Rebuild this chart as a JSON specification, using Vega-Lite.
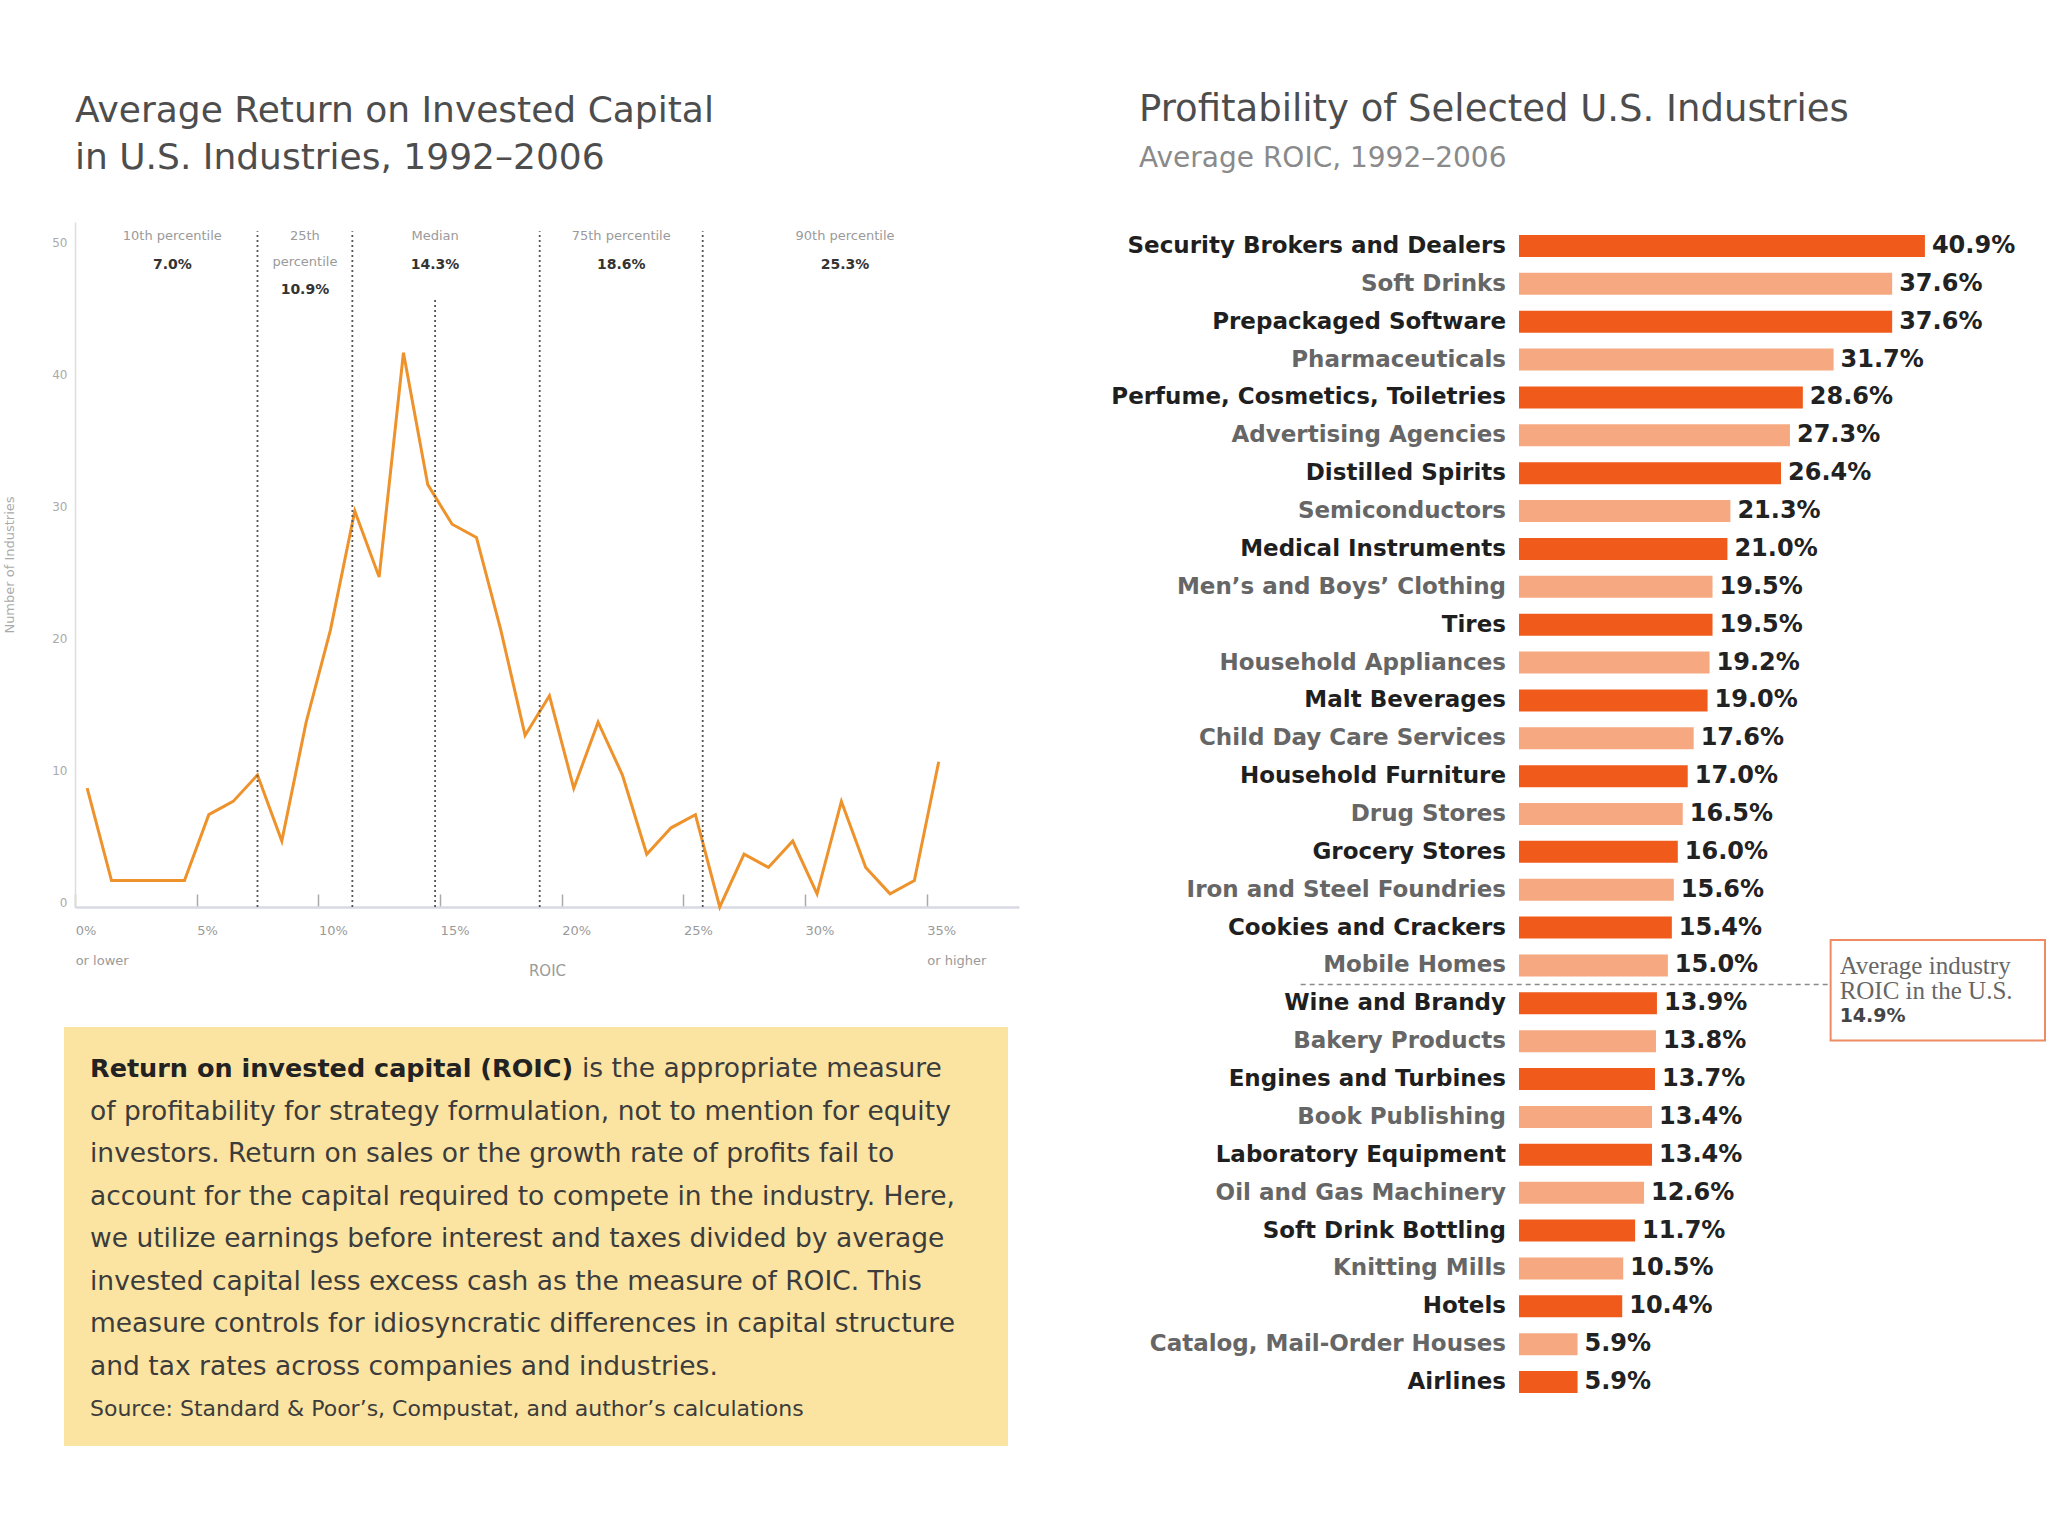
{
  "$schema": "https://vega.github.io/schema/vega-lite/v6.json",
  "background": "white",
  "padding": {"left": 3, "top": 91, "right": 0, "bottom": 0},
  "config": {"font": "DejaVu Sans", "view": {"stroke": null}},
  "datasets": {
    "distribution": [
      {"roic": 0, "industries": 9}, {"roic": 1, "industries": 2}, {"roic": 2, "industries": 2},
      {"roic": 3, "industries": 2}, {"roic": 4, "industries": 2}, {"roic": 5, "industries": 7},
      {"roic": 6, "industries": 8}, {"roic": 7, "industries": 10}, {"roic": 8, "industries": 5},
      {"roic": 9, "industries": 14}, {"roic": 10, "industries": 21}, {"roic": 11, "industries": 30},
      {"roic": 12, "industries": 25}, {"roic": 13, "industries": 42}, {"roic": 14, "industries": 32},
      {"roic": 15, "industries": 29}, {"roic": 16, "industries": 28}, {"roic": 17, "industries": 21},
      {"roic": 18, "industries": 13}, {"roic": 19, "industries": 16}, {"roic": 20, "industries": 9},
      {"roic": 21, "industries": 14}, {"roic": 22, "industries": 10}, {"roic": 23, "industries": 4},
      {"roic": 24, "industries": 6}, {"roic": 25, "industries": 7}, {"roic": 26, "industries": 0},
      {"roic": 27, "industries": 4}, {"roic": 28, "industries": 3}, {"roic": 29, "industries": 5},
      {"roic": 30, "industries": 1}, {"roic": 31, "industries": 8}, {"roic": 32, "industries": 3},
      {"roic": 33, "industries": 1}, {"roic": 34, "industries": 2}, {"roic": 35, "industries": 11}
    ],
    "percentiles": [
      {"pct": 10, "label": "10th percentile", "value": 7.0},
      {"pct": 25, "label": "25th\npercentile", "value": 10.9},
      {"pct": 50, "label": "Median", "value": 14.3},
      {"pct": 75, "label": "75th percentile", "value": 18.6},
      {"pct": 90, "label": "90th percentile", "value": 25.3}
    ],
    "notes": [
      {"line": 1, "lead": "Return on invested capital (ROIC)", "text": "is the appropriate measure"},
      {"line": 2, "text": "of profitability for strategy formulation, not to mention for equity"},
      {"line": 3, "text": "investors. Return on sales or the growth rate of profits fail to"},
      {"line": 4, "text": "account for the capital required to compete in the industry. Here,"},
      {"line": 5, "text": "we utilize earnings before interest and taxes divided by average"},
      {"line": 6, "text": "invested capital less excess cash as the measure of ROIC. This"},
      {"line": 7, "text": "measure controls for idiosyncratic differences in capital structure"},
      {"line": 8, "text": "and tax rates across companies and industries."}
    ],
    "source": [
      {"line": 9, "text": "Source: Standard & Poor’s, Compustat, and author’s calculations"}
    ],
    "industries": [
      {"rank": 1, "industry": "Security Brokers and Dealers", "roic": 0.409},
      {"rank": 2, "industry": "Soft Drinks", "roic": 0.376},
      {"rank": 3, "industry": "Prepackaged Software", "roic": 0.376},
      {"rank": 4, "industry": "Pharmaceuticals", "roic": 0.317},
      {"rank": 5, "industry": "Perfume, Cosmetics, Toiletries", "roic": 0.286},
      {"rank": 6, "industry": "Advertising Agencies", "roic": 0.273},
      {"rank": 7, "industry": "Distilled Spirits", "roic": 0.264},
      {"rank": 8, "industry": "Semiconductors", "roic": 0.213},
      {"rank": 9, "industry": "Medical Instruments", "roic": 0.210},
      {"rank": 10, "industry": "Men’s and Boys’ Clothing", "roic": 0.195},
      {"rank": 11, "industry": "Tires", "roic": 0.195},
      {"rank": 12, "industry": "Household Appliances", "roic": 0.192},
      {"rank": 13, "industry": "Malt Beverages", "roic": 0.190},
      {"rank": 14, "industry": "Child Day Care Services", "roic": 0.176},
      {"rank": 15, "industry": "Household Furniture", "roic": 0.170},
      {"rank": 16, "industry": "Drug Stores", "roic": 0.165},
      {"rank": 17, "industry": "Grocery Stores", "roic": 0.160},
      {"rank": 18, "industry": "Iron and Steel Foundries", "roic": 0.156},
      {"rank": 19, "industry": "Cookies and Crackers", "roic": 0.154},
      {"rank": 20, "industry": "Mobile Homes", "roic": 0.150},
      {"rank": 21, "industry": "Wine and Brandy", "roic": 0.139},
      {"rank": 22, "industry": "Bakery Products", "roic": 0.138},
      {"rank": 23, "industry": "Engines and Turbines", "roic": 0.137},
      {"rank": 24, "industry": "Book Publishing", "roic": 0.134},
      {"rank": 25, "industry": "Laboratory Equipment", "roic": 0.134},
      {"rank": 26, "industry": "Oil and Gas Machinery", "roic": 0.126},
      {"rank": 27, "industry": "Soft Drink Bottling", "roic": 0.117},
      {"rank": 28, "industry": "Knitting Mills", "roic": 0.105},
      {"rank": 29, "industry": "Hotels", "roic": 0.104},
      {"rank": 30, "industry": "Catalog, Mail-Order Houses", "roic": 0.059},
      {"rank": 31, "industry": "Airlines", "roic": 0.059}
    ],
    "avg_roic": [
      {"label": "Average industry\nROIC in the U.S.", "roic": 0.149}
    ]
  },
  "hconcat": [
    {
      "spacing": 49,
      "vconcat": [
        {
          "width": 944,
          "height": 685,
          "title": {
            "text": ["Average Return on Invested Capital", "in U.S. Industries, 1992–2006"],
            "anchor": "start", "frame": "group", "fontSize": 36, "fontWeight": "normal",
            "color": "#4d4d4d", "lineHeight": 47, "offset": 45
          },
          "layer": [
            {
              "data": {"name": "distribution"},
              "mark": {"type": "line", "color": "#EE922C", "strokeWidth": 3},
              "encoding": {
                "x": {
                  "field": "roic", "type": "quantitative",
                  "scale": {"domain": [-0.5, 38.3], "nice": false, "zero": false},
                  "axis": {
                    "values": [0, 5, 10, 15, 20, 25, 30, 35],
                    "labelExpr": "datum.value == 0 ? ['0%', 'or lower'] : datum.value == 35 ? ['35%', 'or higher'] : datum.value + '%'",
                    "title": "ROIC", "grid": false,
                    "domainColor": "#d9d9e3", "domainWidth": 2.5,
                    "ticks": true, "tickColor": "#aaaaaa", "tickWidth": 1.5, "tickSize": -13, "tickOffset": -12,
                    "labelPadding": 30, "labelAlign": "left", "labelColor": "#9a9a9a", "labelFontSize": 13,
                    "labelLineHeight": 30, "labelFlush": false, "labelOverlap": false,
                    "titleColor": "#9a9a9a", "titleFontSize": 15, "titleFontWeight": "normal", "titlePadding": -4
                  }
                },
                "y": {
                  "field": "industries", "type": "quantitative",
                  "scale": {"domain": [0, 51.9], "nice": false},
                  "axis": {
                    "values": [0, 10, 20, 30, 40, 50], "title": "Number of Industries",
                    "grid": false, "ticks": false, "domainColor": "#dddddd", "domainWidth": 1.5,
                    "labelColor": "#aaaaaa", "labelFontSize": 12, "labelPadding": 8, "labelOffset": -5,
                    "titleColor": "#aaaaaa", "titleFontSize": 13, "titleFontWeight": "normal", "titlePadding": 35
                  }
                }
              }
            },
            {
              "data": {"name": "percentiles"},
              "transform": [{"filter": "datum.pct != 50"}],
              "mark": {"type": "rule", "color": "#555555", "strokeWidth": 1.8, "strokeDash": [2, 3]},
              "encoding": {
                "x": {"field": "value", "type": "quantitative"},
                "y": {"datum": 0},
                "y2": {"datum": 51.2}
              }
            },
            {
              "data": {"name": "percentiles"},
              "transform": [{"filter": "datum.pct == 50"}],
              "mark": {"type": "rule", "color": "#555555", "strokeWidth": 1.8, "strokeDash": [2, 3]},
              "encoding": {
                "x": {"field": "value", "type": "quantitative"},
                "y": {"datum": 0},
                "y2": {"datum": 46}
              }
            },
            {
              "data": {"name": "percentiles"},
              "transform": [
                {"window": [{"op": "lag", "field": "value", "as": "prev"}, {"op": "lead", "field": "value", "as": "next"}], "sort": [{"field": "value"}], "frame": [null, null]},
                {"calculate": "datum.pct < 50 ? ((isValid(datum.prev) ? datum.prev : 0) + datum.value) / 2 : (datum.pct == 50 ? datum.value : (datum.value + (isValid(datum.next) ? datum.next : 37)) / 2)", "as": "label_x"},
                {"calculate": "format(datum.value, '.1f') + '%'", "as": "value_label"}
              ],
              "layer": [
                {
                  "mark": {"type": "text", "align": "center", "baseline": "top", "fontSize": 13, "color": "#9a9a9a", "lineBreak": "\n", "lineHeight": 26},
                  "encoding": {
                    "x": {"field": "label_x", "type": "quantitative"},
                    "y": {"datum": 51.3},
                    "text": {"field": "label"}
                  }
                },
                {
                  "transform": [{"filter": "datum.pct != 25"}],
                  "mark": {"type": "text", "align": "center", "baseline": "top", "fontSize": 14, "fontWeight": "bold", "color": "#333333"},
                  "encoding": {
                    "x": {"field": "label_x", "type": "quantitative"},
                    "y": {"datum": 49.2},
                    "text": {"field": "value_label"}
                  }
                },
                {
                  "transform": [{"filter": "datum.pct == 25"}],
                  "mark": {"type": "text", "align": "center", "baseline": "top", "fontSize": 14, "fontWeight": "bold", "color": "#333333"},
                  "encoding": {
                    "x": {"field": "label_x", "type": "quantitative"},
                    "y": {"datum": 47.3},
                    "text": {"field": "value_label"}
                  }
                }
              ]
            }
          ]
        },
        {
          "width": 944,
          "height": 419,
          "encoding": {
            "x": {"datum": 0, "type": "quantitative", "scale": {"domain": [0, 1]}, "axis": null},
            "y": {"field": "line", "type": "quantitative", "scale": {"domain": [0, 9.87], "nice": false, "zero": false, "reverse": true}, "axis": null}
          },
          "layer": [
            {
              "data": {"name": "source"},
              "mark": {"type": "rect", "fill": "#FBE4A1", "xOffset": -11, "x2Offset": -11},
              "encoding": {"x": {"datum": 0}, "x2": {"datum": 1}, "y": {"datum": 0}, "y2": {"datum": 9.87}}
            },
            {
              "data": {"name": "notes"},
              "transform": [{"filter": "!isValid(datum.lead)"}],
              "mark": {"type": "text", "align": "left", "baseline": "middle", "dx": 15, "fontSize": 26.5, "color": "#3c3c3c"},
              "encoding": {"text": {"field": "text"}}
            },
            {
              "data": {"name": "notes"},
              "transform": [{"filter": "isValid(datum.lead)"}],
              "mark": {"type": "text", "align": "left", "baseline": "middle", "dx": 15, "fontSize": 25.5, "fontWeight": "bold", "color": "#222222"},
              "encoding": {"text": {"field": "lead"}}
            },
            {
              "data": {"name": "notes"},
              "transform": [{"filter": "isValid(datum.lead)"}],
              "mark": {"type": "text", "align": "left", "baseline": "middle", "dx": 507, "fontSize": 26.5, "color": "#3c3c3c"},
              "encoding": {"text": {"field": "text"}}
            },
            {
              "data": {"name": "source"},
              "mark": {"type": "text", "align": "left", "baseline": "middle", "dx": 15, "fontSize": 22, "color": "#3c3c3c"},
              "encoding": {"text": {"field": "text"}}
            }
          ]
        }
      ]
    },
    {
      "width": 526,
      "height": 1184,
      "title": {
        "text": "Profitability of Selected U.S. Industries",
        "subtitle": "Average ROIC, 1992–2006",
        "anchor": "start", "frame": "group", "dx": -380,
        "fontSize": 37, "fontWeight": "normal", "color": "#4d4d4d",
        "subtitleFontSize": 28, "subtitleColor": "#8a8a8a", "subtitlePadding": 16, "offset": 48
      },
      "layer": [
        {
          "data": {"name": "industries"},
          "mark": {"type": "bar", "orient": "horizontal", "height": 22},
          "encoding": {
            "x": {"field": "roic", "type": "quantitative", "scale": {"domain": [0, 0.53], "nice": false}, "axis": null},
            "y": {"field": "rank", "type": "quantitative", "scale": {"domain": [0.5, 31.5], "nice": false, "zero": false, "reverse": true}, "axis": null},
            "color": {"condition": {"test": "datum.rank % 2 == 1", "value": "#F05A1A"}, "value": "#F6A880"}
          }
        },
        {
          "data": {"name": "industries"},
          "transform": [{"filter": "datum.rank % 2 == 1"}],
          "mark": {"type": "text", "align": "right", "baseline": "middle", "dx": -13, "fontSize": 23, "fontWeight": "bold", "color": "#1f1f1f"},
          "encoding": {"x": {"datum": 0}, "y": {"field": "rank", "type": "quantitative"}, "text": {"field": "industry"}}
        },
        {
          "data": {"name": "industries"},
          "transform": [{"filter": "datum.rank % 2 == 0"}],
          "mark": {"type": "text", "align": "right", "baseline": "middle", "dx": -13, "fontSize": 23, "fontWeight": "bold", "color": "#666666"},
          "encoding": {"x": {"datum": 0}, "y": {"field": "rank", "type": "quantitative"}, "text": {"field": "industry"}}
        },
        {
          "data": {"name": "industries"},
          "mark": {"type": "text", "align": "left", "baseline": "middle", "dx": 7, "fontSize": 24, "fontWeight": "bold", "color": "#222222"},
          "encoding": {"x": {"field": "roic", "type": "quantitative"}, "y": {"field": "rank", "type": "quantitative"}, "text": {"field": "roic", "format": ".1%"}}
        },
        {
          "data": {"name": "avg_roic"},
          "layer": [
            {
              "mark": {"type": "rule", "color": "#8a8a8a", "strokeWidth": 1.5, "strokeDash": [5, 4]},
              "encoding": {"x": {"datum": -0.22}, "x2": {"datum": 0.314}, "y": {"datum": 20.5}}
            },
            {
              "mark": {"type": "rect", "fill": "white", "stroke": "#EE8B62", "strokeWidth": 2},
              "encoding": {"x": {"datum": 0.314}, "x2": {"datum": 0.53}, "y": {"datum": 19.33}, "y2": {"datum": 21.98}}
            },
            {
              "mark": {"type": "text", "align": "left", "baseline": "top", "dx": 9, "font": "Liberation Serif", "fontSize": 25, "lineHeight": 25, "lineBreak": "\n", "color": "#666666"},
              "encoding": {"x": {"datum": 0.314}, "y": {"datum": 19.7}, "text": {"field": "label"}}
            },
            {
              "mark": {"type": "text", "align": "left", "baseline": "top", "dx": 9, "fontSize": 19, "fontWeight": "bold", "color": "#444444"},
              "encoding": {"x": {"datum": 0.314}, "y": {"datum": 21.1}, "text": {"field": "roic", "format": ".1%"}}
            }
          ]
        }
      ]
    }
  ],
  "spacing": 92
}
